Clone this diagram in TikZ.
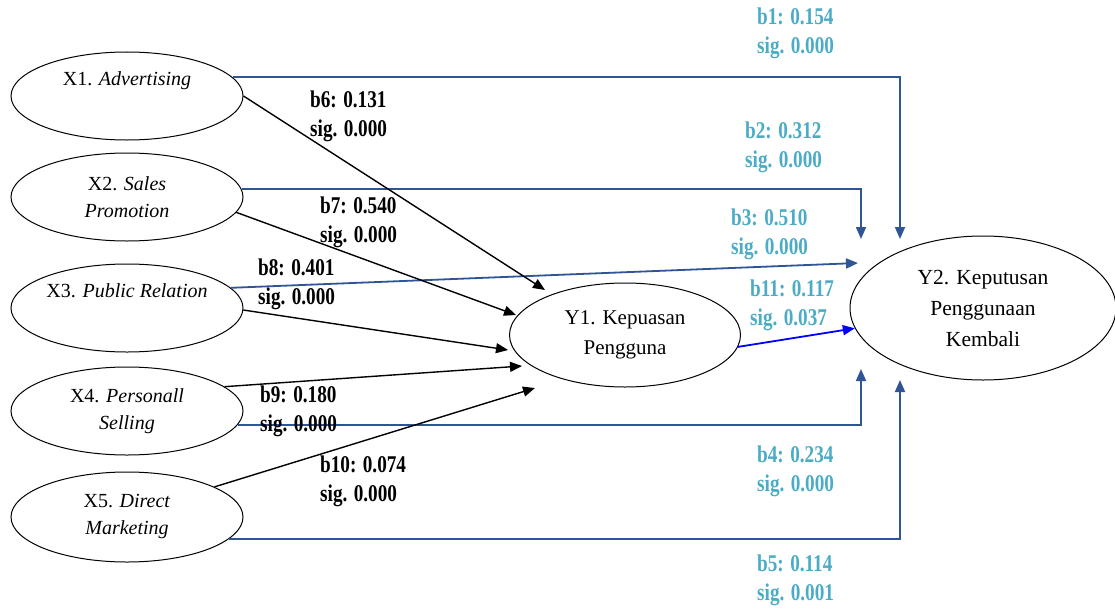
\documentclass[tikz,border=0pt]{standalone}
\usepackage{fontspec}
\setmainfont{Liberation Serif}
\newfontfamily\labfont[FakeStretch=0.8]{Liberation Serif}
\usetikzlibrary{arrows.meta,shapes.geometric}
\definecolor{lineblue}{RGB}{47,85,151}
\definecolor{labblue}{RGB}{75,172,198}
\tikzset{
  xell/.style={ellipse,draw=black,line width=1pt,minimum width=232pt,minimum height=88pt,inner sep=0pt,align=center,font=\fontsize{20}{27}\selectfont},
  yell/.style={ellipse,draw=black,line width=1pt,inner sep=0pt,align=center,font=\fontsize{21}{30}\selectfont},
  lab/.style={anchor=west,align=left,inner sep=0pt,font=\labfont\bfseries\fontsize{24}{29}\selectfont},
  blab/.style={lab,text=labblue},
  blk/.style={draw=black,line width=1.4pt,-{Triangle[length=12pt,width=10pt]}},
  blu/.style={draw=lineblue,line width=1.8pt,-{Triangle[length=12pt,width=10pt]}},
}
\begin{document}
\begin{tikzpicture}[x=1pt,y=-1pt]
\useasboundingbox[fill=white] (0,0) rectangle (1115,610);
% nodes
\node[xell] (X1) at (127,96) {X1. \textit{Advertising}\\\strut};
\node[xell] (X2) at (127,197) {X2. \textit{Sales}\\\textit{Promotion}};
\node[xell] (X3) at (127,308) {X3. \textit{Public Relation}\\\strut};
\node[xell] (X4) at (127,411) {X4. \textit{Personall}\\\textit{Selling}};
\node[xell,minimum height=90pt] (X5) at (127,517) {X5. \textit{Direct}\\\textit{Marketing}};
\node[yell,minimum width=231pt,minimum height=104pt] (Y1) at (625,335) {Y1. Kepuasan\\Pengguna};
\node[yell,minimum width=266pt,minimum height=144pt,font=\fontsize{21.5}{31}\selectfont] (Y2) at (983,308) {Y2. Keputusan\\Penggunaan\\Kembali};
% arrow tip coordinates
\coordinate (t1) at (900,239);
\coordinate (t2) at (861,239);
\coordinate (t3) at (858,263);
\coordinate (t4) at (861,369);
\coordinate (t5) at (900,380);
\coordinate (y1a) at (545,290);
\coordinate (y1b) at (516,315);
\coordinate (y1c) at (508,350);
\coordinate (y1d) at (522,366);
\coordinate (y1e) at (535,388);
% blue connectors
\draw[blu] (X1.10) -| (t1);
\draw[blu] (X2.4.5) -| (t2);
\draw[blu] (X3.11) -- (t3);
\draw[blu] (X4.-7) -| (t4);
\draw[blu] (X5.-12) -| (t5);
% black connectors
\draw[blk] (X1.east) -- (y1a);
\draw[blk] (X2.-8) -- (y1b);
\draw[blk] (X3.-1) -- (y1c);
\draw[blk] (X4.14.7) -- (y1d);
\draw[blk] (X5.19) -- (y1e);
% Y1 -> Y2
\draw[draw=blue,line width=1.8pt,-{Triangle[length=12pt,width=10pt]}] (Y1.-6) -- (Y2.189);
% labels
\node[lab] (l6) at (310,116) {b6: 0.131\\sig. 0.000};
\node[lab] (l7) at (320,222) {b7: 0.540\\sig. 0.000};
\node[lab] (l8) at (258,284) {b8: 0.401\\sig. 0.000};
\node[lab] (l9) at (260,411) {b9: 0.180\\sig. 0.000};
\node[lab] (l10) at (320,481) {b10: 0.074\\sig. 0.000};
\node[blab] (l1) at (757,33) {b1: 0.154\\sig. 0.000};
\node[blab] (l2) at (745,147) {b2: 0.312\\sig. 0.000};
\node[blab] (l3) at (731,234) {b3: 0.510\\sig. 0.000};
\node[blab] (l11) at (750,305) {b11: 0.117\\sig. 0.037};
\node[blab] (l4) at (757,471) {b4: 0.234\\sig. 0.000};
\node[blab] (l5) at (757,580) {b5: 0.114\\sig. 0.001};
\end{tikzpicture}
\end{document}
